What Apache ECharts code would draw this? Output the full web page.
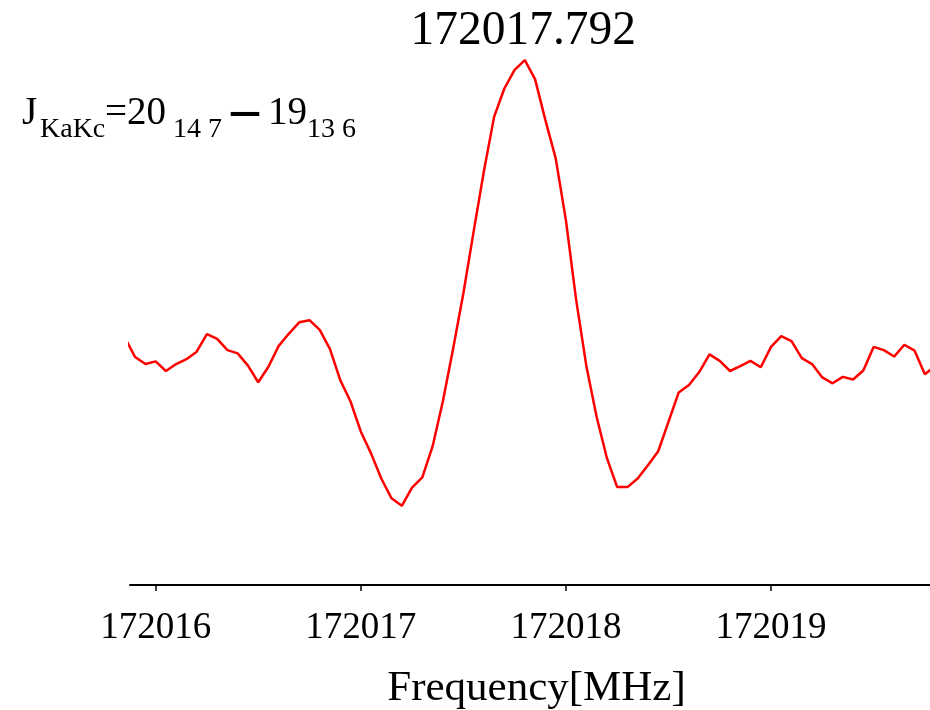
<!DOCTYPE html>
<html>
<head>
<meta charset="utf-8">
<script src="https://cdn.jsdelivr.net/npm/echarts@6/dist/echarts.min.js"></script>
<style>
  html, body { margin: 0; padding: 0; background: #fff; }
  #chart { width: 930px; height: 710px; }
</style>
</head>
<body>
<div id="chart"></div>
<script>
// spectrum around the line, 0.05 MHz steps
const freqStart = 172015.85
const freqStep = 0.05
const intensity = [
  46.2, 42.6, 41.3, 41.8, 40.0, 41.3, 42.2, 43.6, 46.9, 46.0,
  43.9, 43.3, 41.0, 37.9, 40.8, 44.7, 47.0, 49.1, 49.5, 47.7,
  44.1, 38.3, 34.3, 28.7, 24.6, 19.9, 16.2, 14.8, 18.2, 20.1,
  25.9, 34.3, 44.1, 54.5, 66.0, 77.3, 87.5, 92.8, 96.3, 98.1,
  94.5, 86.9, 79.8, 68.2, 53.3, 40.9, 31.4, 23.7, 18.3, 18.3,
  19.9, 22.4, 25.0, 30.5, 36.0, 37.4, 39.8, 43.1, 41.9, 40.0,
  40.9, 41.9, 40.7, 44.5, 46.5, 45.6, 42.4, 41.3, 38.8, 37.7,
  38.9, 38.4, 40.1, 44.5, 43.9, 42.7, 44.9, 43.8, 39.4, 40.9
]
const tickValues = [172016, 172017, 172018, 172019]
const peakFreq = 172017.792
const peakLabel = '172017.792'
const axisName = 'Frequency[MHz]'

const serif = '"Liberation Serif", "DejaVu Serif", serif'

let points = intensity.map((v, i) => [+(freqStart + i * freqStep).toFixed(3), v])
let peakValue = Math.max(...intensity)

// transition label J_KaKc = 20_14 7 - 19_13 6, main text and subscripts
function txt (text, x, y, size, family, weight) {
  return {
    type: 'text',
    x,
    y,
    style: {
      text,
      fontFamily: family || serif,
      fontSize: size,
      fontWeight: weight || 'normal',
      fill: '#000',
      align: 'left',
      verticalAlign: 'middle'
    }
  }
}
const mainY = 114
const subY = 130
let labelParts = [
  txt('J', 22, mainY, 39),
  txt('KaKc', 40, subY, 28),
  txt('=20', 105, mainY, 39),
  txt('14 7', 173, subY, 28),
  txt('—', 229, 115, 32, '"DejaVu Sans", sans-serif', 'bold'),
  txt('19', 268, mainY, 39),
  txt('13 6', 307, subY, 28)
]

let chart = echarts.init(document.getElementById('chart'))
chart.setOption({
  animation: false,
  backgroundColor: '#fff',
  grid: { left: 130, right: 0, top: 50, bottom: 125, outerBoundsMode: 'none' },
  xAxis: {
    type: 'value',
    min: 172015.875,
    max: 172019.775,
    name: axisName,
    nameLocation: 'middle',
    nameGap: 82,
    nameTextStyle: { fontFamily: serif, fontSize: 43, color: '#000', padding: [0, 0, 0, 13] },
    axisLine: { lineStyle: { color: '#000', width: 2 } },
    axisTick: { customValues: tickValues, length: 6, lineStyle: { color: '#000', width: 1.5 } },
    axisLabel: {
      customValues: tickValues,
      margin: 25,
      fontFamily: serif,
      fontSize: 37,
      color: '#000',
      formatter: v => String(v)
    },
    splitLine: { show: false }
  },
  yAxis: {
    type: 'value',
    min: 0,
    max: 100,
    show: false
  },
  series: [{
    type: 'line',
    data: points,
    symbol: 'none',
    clip: true,
    lineStyle: { color: '#ff0000', width: 2.5 },
    markPoint: {
      symbol: 'circle',
      symbolSize: 0,
      data: [{ coord: [peakFreq, peakValue] }],
      label: {
        show: true,
        position: 'top',
        distance: 5,
        formatter: peakLabel,
        fontFamily: serif,
        fontSize: 47.5,
        color: '#000'
      }
    }
  }],
  graphic: labelParts
})
</script>
</body>
</html>
